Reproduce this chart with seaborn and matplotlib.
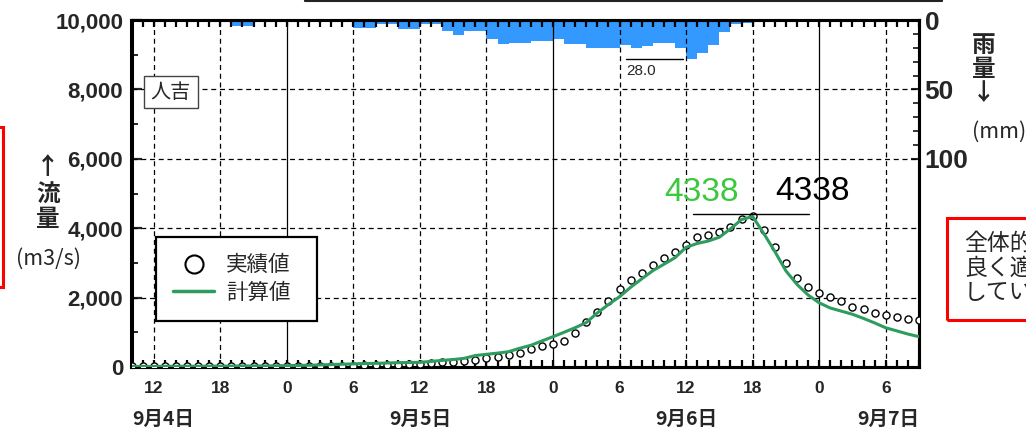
import numpy as np
import pandas as pd
import matplotlib
matplotlib.use("Agg")
import matplotlib.pyplot as plt
import seaborn as sns
from matplotlib.lines import Line2D
from matplotlib.patches import Rectangle
from matplotlib.ticker import FixedLocator, MultipleLocator, FuncFormatter

# ---------------- data (hours counted from 9/4 00:00) ----------------
hours = list(range(10, 82))
observed = [20, 20, 20, 20, 20, 20, 20, 20, 20, 20,
            25, 25, 25, 25, 25, 30, 30, 30, 35, 35,
            40, 45, 50, 60, 70, 85, 95,
            107, 135, 150, 173, 200, 260, 297, 337, 395, 519, 605, 672, 758, 989,
            1306, 1585, 1902, 2239, 2498, 2700, 2939, 3141, 3305, 3525, 3755, 3813,
            3881, 4043, 4265, 4338, 3948, 3458, 3006, 2565, 2297, 2141, 2009, 1893,
            1738, 1671, 1565, 1507, 1432, 1383, 1346]
calculated = [15, 15, 15, 20, 20, 20, 20, 25, 25, 25,
              30, 30, 30, 35, 40, 45, 50, 60, 70, 80,
              90, 100, 105, 115, 125, 130,
              135, 160, 190, 215, 250, 330, 366, 400, 441, 540, 625, 750, 873, 1000,
              1133, 1280, 1560, 1800, 2026, 2297, 2540, 2775, 2960, 3150, 3450, 3560,
              3630, 3740, 3980, 4250, 4338, 3850, 3330, 2770, 2380, 2075, 1850, 1700,
              1610, 1520, 1400, 1270, 1130, 1040, 950, 873]
rain_hours = list(range(10, 81))
rainfall = [0, 0, 0, 0, 0, 0, 0,
            1.5, 0.5, 4, 4,
            0, 0, 0, 0, 0, 0,
            1.5, 1.5, 0.5, 6, 6, 3, 3, 6.5, 6.5, 3, 3, 8, 11, 8, 8, 14, 17, 16.5, 16.5,
            15, 15, 14, 17, 17, 20, 20, 20, 18, 20, 19, 16.5, 16.5, 20, 28, 24, 18, 9,
            3, 2.5,
            1.5, 1.5, 1.5, 1.5, 1.5, 1.5, 1.5,
            0, 0, 0, 0, 0, 1.5, 0, 0]

tick_hours = [12, 18, 24, 30, 36, 42, 48, 54, 60, 66, 72, 78]
tick_labels = ["12", "18", "0", "6", "12", "18", "0", "6", "12", "18", "0", "6"]
date_labels = ["9月4日", "9月5日", "9月6日", "9月7日"]
legend_labels = ["実績値", "計算値"]
station = "人吉"

flow_df = pd.DataFrame({"hour": hours, "observed": observed, "calculated": calculated})
rain_df = pd.DataFrame({"center": [h + 0.5 for h in rain_hours], "rain": rainfall})

# ---------------- styling ----------------
sns.set_style("white")
CJK = ["Noto Sans CJK JP", "DejaVu Sans"]
NUM = ["Liberation Sans", "DejaVu Sans"]
plt.rcParams["font.family"] = CJK

GREEN = "#2E9B5F"
BLUE = "#3399FF"

W_PX, H_PX = 1026, 428
fig = plt.figure(figsize=(W_PX / 100, H_PX / 100), dpi=100)
L, R, T, B = 131.5, 919.0, 20.0, 367.0
ax = fig.add_axes([L / W_PX, 1 - B / H_PX, (R - L) / W_PX, (B - T) / H_PX])
ax2 = ax.twinx()

def fx(px):
    return px / W_PX

def fy(py):
    return 1 - py / H_PX

# rain bars (hanging from top)
sns.barplot(data=rain_df, x="center", y="rain", native_scale=True, width=1,
            color=BLUE, saturation=1, linewidth=0, errorbar=None, ax=ax2)
ax2.set_ylim(250, 0)
ax2.set_xlabel("")
ax2.set_ylabel("")

# flow
sns.scatterplot(data=flow_df, x="hour", y="observed", marker="o", s=26,
                facecolor="white", edgecolor="black", linewidth=1.0, ax=ax,
                zorder=4, legend=False)
sns.lineplot(data=flow_df, x="hour", y="calculated", color=GREEN, lw=2.2,
             ax=ax, zorder=5, legend=False)
ax.set_xlabel("")
ax.set_ylabel("")
ax.set_xlim(10, 81)
ax.set_ylim(0, 10000)
ax2.set_xlim(10, 81)

ax.set_zorder(ax2.get_zorder() + 1)
ax.patch.set_visible(False)

# grid
for yv in [2000, 4000, 6000, 8000]:
    ax.axhline(yv, color="black", lw=0.9, ls=(0, (4, 3)), zorder=1)
for xv in tick_hours:
    if xv % 24 == 0:
        ax.axvline(xv, color="black", lw=0.9, ls="-", zorder=1)
    else:
        ax.axvline(xv, color="black", lw=0.9, ls=(0, (4, 3)), zorder=1)

# ticks
ax.xaxis.set_major_locator(FixedLocator(tick_hours))
ax.set_xticklabels(tick_labels, fontfamily=NUM, fontweight="bold", fontsize=12.5)
ax.xaxis.set_minor_locator(MultipleLocator(1))
ax.yaxis.set_major_locator(MultipleLocator(2000))
ax.yaxis.set_minor_locator(MultipleLocator(1000))
ax.yaxis.set_major_formatter(FuncFormatter(lambda v, p: f"{int(v):,}"))
for lab in ax.get_yticklabels():
    lab.set_fontfamily(NUM)
    lab.set_fontweight("bold")
    lab.set_fontsize(16)
ax.tick_params(axis="x", which="both", direction="in", top=True, bottom=True,
               length=5, width=1.6, pad=10, color="black")
ax.tick_params(axis="y", which="major", direction="in", left=True, right=False,
               length=7, width=1.6, pad=6, labelsize=16)
ax.tick_params(axis="y", which="minor", direction="in", left=True, right=False,
               length=4, width=1.4)
ax2.yaxis.set_major_locator(FixedLocator([0, 50, 100]))
ax2.yaxis.set_minor_locator(FixedLocator(list(range(10, 100, 10))))
ax2.tick_params(axis="y", which="major", direction="in", length=6, width=1.5, pad=4)
ax2.tick_params(axis="y", which="minor", direction="in", length=4, width=1.3)
ax2.set_yticklabels(["0", "50", "100"], fontfamily=NUM, fontweight="bold", fontsize=19)
for a in (ax, ax2):
    for s in a.spines.values():
        s.set_linewidth(2.2)
        s.set_color("black")
        s.set_visible(True)

# annotations: peak values
peak_obs = max(observed)
peak_calc = max(calculated)
ax.text(61.4, 5020, f"{peak_calc}", color="#3CC83C", fontsize=24, fontfamily=NUM,
        ha="center", va="center", zorder=6)
ax.text(71.4, 5070, f"{peak_obs}", color="black", fontsize=24, fontfamily=NUM,
        ha="center", va="center", zorder=6)
ax.plot([60.6, 71.1], [peak_obs * 1.016] * 2, color="black", lw=1.0, zorder=6)

# max rainfall annotation
imax = int(np.argmax(rainfall))
rmax = rainfall[imax]
ax2.plot([rain_hours[imax] - 5.4, rain_hours[imax] - 0.3], [rmax, rmax], color="black", lw=1.0)
ax2.text(rain_hours[imax] - 5.4, rmax + 8.6, f"{rmax:.1f}", fontsize=11, fontfamily=NUM,
         ha="left", va="center")

# station label box
ax.add_patch(Rectangle((11.1, 7464), 4.9, 922, facecolor="white", edgecolor="#444444",
                       lw=1.0, zorder=6))
ax.text(13.55, 7925, station, fontsize=14.5, ha="center", va="center", zorder=7)

# legend
h1 = Line2D([], [], ls="none", marker="o", ms=13, mfc="white", mec="black", mew=1.5,
            label=legend_labels[0])
h2 = Line2D([], [], color=GREEN, lw=2.5, label=legend_labels[1])
leg = ax.legend(handles=[h1, h2], loc="upper left",
                bbox_to_anchor=((156 - L) / (R - L), 0.0, 161 / (R - L), (B - 237) / (B - T)),
                mode="expand", borderaxespad=0, frameon=True, fancybox=False,
                edgecolor="black", framealpha=1, prop={"family": CJK, "size": 15.5},
                handlelength=1.9, handletextpad=0.55, borderpad=0.8, labelspacing=0.25)
leg.get_frame().set_linewidth(1.6)
leg.set_zorder(8)

# date labels
xt = ax.get_xaxis_transform()
yd = (B - 419) / (B - T)
ax.text(10.1, yd, date_labels[0], transform=xt, ha="left", va="center", fontsize=14,
        fontweight="bold", clip_on=False)
ax.text(36, yd, date_labels[1], transform=xt, ha="center", va="center", fontsize=14,
        fontweight="bold", clip_on=False)
ax.text(60, yd, date_labels[2], transform=xt, ha="center", va="center", fontsize=14,
        fontweight="bold", clip_on=False)
ax.text(81, yd, date_labels[3], transform=xt, ha="right", va="center", fontsize=14,
        fontweight="bold", clip_on=False)

# axis titles
fig.text(fx(48), fy(167), "↑", fontsize=17, fontweight="bold", ha="center", va="center")
fig.text(fx(48), fy(195), "流", fontsize=17, fontweight="bold", ha="center", va="center")
fig.text(fx(48), fy(219), "量", fontsize=17, fontweight="bold", ha="center", va="center")
fig.text(fx(49), fy(259), "(m3/s)", fontsize=15.5, ha="center", va="center")
fig.text(fx(984), fy(45), "雨", fontsize=17, fontweight="bold", ha="center", va="center")
fig.text(fx(984), fy(69), "量", fontsize=17, fontweight="bold", ha="center", va="center")
fig.text(fx(984), fy(93), "↓", fontsize=17, fontweight="bold", ha="center", va="center")
fig.text(fx(972), fy(132), "(mm)", fontsize=15.5, ha="left", va="center")

# decorations: boxes cut by the picture edge
fig.add_artist(Line2D([fx(305), fx(305), fx(942), fx(942)], [fy(-10), fy(1), fy(1), fy(-10)],
                      transform=fig.transFigure, color="#222222", lw=1.5))
fig.add_artist(Rectangle((fx(-100), fy(287)), fx(103), (287 - 127) / H_PX,
                         transform=fig.transFigure, fill=False, edgecolor="#FF0000", lw=2.2))
fig.add_artist(Rectangle((fx(946.5), fy(320)), fx(200), (320 - 218) / H_PX,
                         transform=fig.transFigure, fill=False, edgecolor="#FF0000", lw=2.2))
fig.text(fx(964), fy(268), "全体的に\n良く適合\nしている", fontsize=16.5, ha="left",
         va="center", linespacing=1.1)

fig.savefig("out.png", dpi=100)
